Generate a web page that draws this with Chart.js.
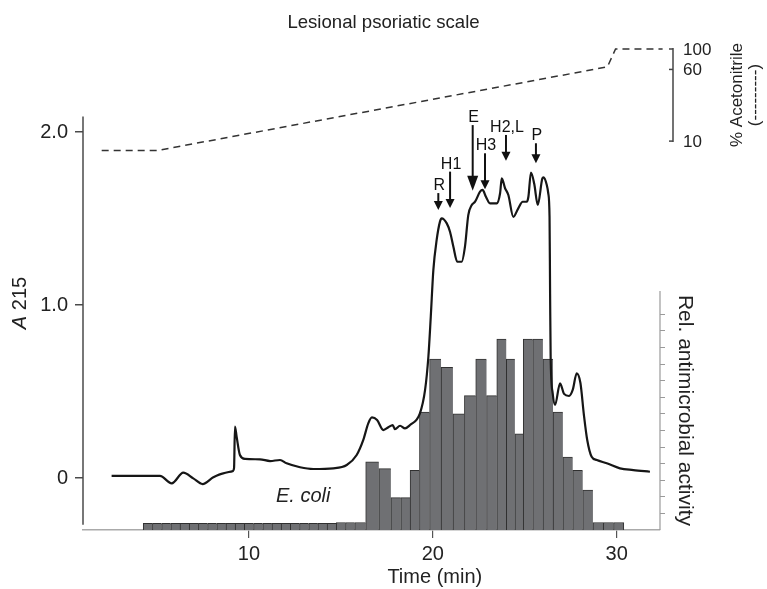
<!DOCTYPE html>
<html>
<head>
<meta charset="utf-8">
<script src="https://cdn.jsdelivr.net/npm/chart.js@4.4.1/dist/chart.umd.min.js"></script>
<style>
  html, body { margin: 0; padding: 0; background: #fff; }
</style>
</head>
<body>
<canvas id="myChart" width="767" height="589"></canvas>
<script>
// HPLC run of lesional psoriatic scale extract

// A215 trace
const TIME = [2.53, 5.16, 5.8, 6.43, 6.97, 7.48, 8.06, 8.6, 9.12, 9.19, 9.24, 9.33, 9.51, 9.79, 10.6, 11.15, 11.69, 12.05, 12.78, 13.5,
  14.59, 15.32, 15.86, 16.22, 16.49, 16.69, 16.97, 17.31, 17.58, 17.82, 17.94, 18.22, 18.49, 18.76, 19.3, 19.58, 19.76, 19.89, 20.03, 20.21,
  20.39, 20.48, 20.76, 20.94, 21.12, 21.33, 21.57, 21.75, 21.93, 22.12, 22.3, 22.57, 22.71, 22.89, 23.11, 23.48, 23.66, 23.75, 23.93, 24.11,
  24.38, 24.65, 24.89, 25.11, 25.2, 25.34, 25.52, 25.71, 25.96, 26.02, 26.2, 26.28, 26.35, 26.38, 26.41, 26.52, 26.65, 26.92, 27.14, 27.41,
  27.61, 27.83, 28.03, 28.22, 28.4, 28.64, 28.92, 29.46, 30.18, 30.91, 31.81];
const A215 = [0.012, 0.012, -0.031, 0.031, -0.002, -0.035, 0.004, 0.027, 0.04, 0.058, 0.297, 0.239, 0.133, 0.11, 0.108, 0.098, 0.104, 0.085, 0.062, 0.052,
  0.056, 0.075, 0.133, 0.22, 0.316, 0.35, 0.335, 0.277, 0.293, 0.306, 0.282, 0.302, 0.287, 0.306, 0.374, 0.509, 0.701, 0.932, 1.202, 1.376,
  1.482, 1.501, 1.472, 1.422, 1.337, 1.25, 1.25, 1.337, 1.52, 1.578, 1.597, 1.655, 1.665, 1.626, 1.588, 1.588, 1.646, 1.732, 1.675, 1.636,
  1.51, 1.559, 1.597, 1.597, 1.626, 1.766, 1.699, 1.578, 1.732, 1.738, 1.694, 1.646, 1.51, 1.068, 0.701, 0.49, 0.422, 0.547, 0.486, 0.474,
  0.509, 0.605, 0.549, 0.364, 0.22, 0.123, 0.104, 0.085, 0.056, 0.046, 0.036];

// fractions (mid time, min) and their antimicrobial activity vs E. coli
const FRACTION_TIME = [4.5, 5.0, 5.5, 6.0, 6.5, 7.0, 7.5, 8.0, 8.5, 9.0, 9.5, 10.0, 10.5, 11.0, 11.5, 12.0, 12.5, 13.0, 13.5, 14.0,
  14.5, 15.0, 15.5, 16.0, 16.7, 17.43, 18.01, 18.51, 19.02, 19.53, 20.12, 20.78, 21.41, 22.03, 22.64, 23.21, 23.75, 24.25, 24.68, 25.16,
  25.71, 26.27, 26.81, 27.34, 27.88, 28.43, 28.99, 29.55, 30.11];
const ACTIVITY = [0.4, 0.4, 0.4, 0.4, 0.4, 0.4, 0.4, 0.4, 0.4, 0.4, 0.4, 0.4, 0.4, 0.4, 0.4, 0.4, 0.4, 0.4, 0.4, 0.4,
  0.4, 0.45, 0.45, 0.45, 4.1, 3.7, 1.95, 1.95, 3.6, 7.1, 10.3, 9.8, 7.0, 8.1, 10.3, 8.1, 11.5, 10.3, 5.8, 11.5,
  11.5, 10.3, 7.1, 4.4, 3.6, 2.4, 0.45, 0.45, 0.45];

// acetonitrile gradient
const GRAD_TIME = [1.99, 5.0, 29.5, 29.94, 32.5];
const GRAD_ACN = [7.9, 7.9, 64, 100, 100];

const X_TICKS = [10, 20, 30];
const A215_TICKS = [0, 1, 2];
const ACN_TICKS = [10, 60, 100];
const ACT_TICKS = [1, 2, 3, 4, 5, 6, 7, 8, 9, 10, 11, 12, 13];

// peak arrows: time, arrow start and tip in A215 units
const PEAKS = [
  { label: 'R', time: 20.3, top: 1.647, tip: 1.549 },
  { label: 'H1', time: 20.94, top: 1.771, tip: 1.561 },
  { label: 'E', time: 22.17, top: 2.04, tip: 1.661 },
  { label: 'H3', time: 22.84, top: 1.877, tip: 1.669 },
  { label: 'H2,L', time: 23.98, top: 1.983, tip: 1.834 },
  { label: 'P', time: 25.61, top: 1.935, tip: 1.819 }
];

const FONT = '"Liberation Sans", Arial, Helvetica, sans-serif';
Chart.defaults.font.family = FONT;
Chart.defaults.color = '#222';

function line(ctx, x1, y1, x2, y2) {
  ctx.beginPath();
  ctx.moveTo(x1, y1);
  ctx.lineTo(x2, y2);
  ctx.stroke();
}

function rotText(ctx, text, x, y, angle, font) {
  ctx.save();
  ctx.translate(x, y);
  ctx.rotate(angle);
  ctx.font = font;
  ctx.textAlign = 'center';
  ctx.textBaseline = 'middle';
  ctx.fillText(text, 0, 0);
  ctx.restore();
}

const extras = {
  id: 'extras',
  afterDraw(chart) {
    const { ctx, chartArea } = chart;
    const { x, y, yAct, yAcn } = chart.scales;
    ctx.save();
    ctx.fillStyle = '#222';

    // left axis line
    ctx.strokeStyle = '#4a4a4a';
    ctx.lineWidth = 1.5;
    line(ctx, chartArea.left, y.getPixelForValue(2.09), chartArea.left, y.getPixelForValue(-0.27));

    // activity axis line
    ctx.strokeStyle = '#9a9a9a';
    ctx.lineWidth = 1.2;
    line(ctx, chartArea.right, yAct.getPixelForValue(0), chartArea.right, yAct.getPixelForValue(14.4));

    // acetonitrile bracket axis
    const ax = chartArea.right + 13;
    ctx.strokeStyle = '#444';
    ctx.lineWidth = 1.5;
    line(ctx, ax, yAcn.getPixelForValue(100) - 1, ax, yAcn.getPixelForValue(10) + 1);
    ctx.font = '17px ' + FONT;
    ctx.textAlign = 'left';
    ctx.textBaseline = 'middle';
    ACN_TICKS.forEach(v => {
      const py = yAcn.getPixelForValue(v);
      line(ctx, ax - 4, py, ax, py);
      ctx.fillText(String(v), ax + 10, py + 1);
    });
    const acnMid = (yAcn.getPixelForValue(100) + yAcn.getPixelForValue(10)) / 2;
    rotText(ctx, '% Acetonitrile', ax + 64, acnMid, -Math.PI / 2, '17px ' + FONT);
    rotText(ctx, '(---------)', ax + 82, acnMid, -Math.PI / 2, '17px ' + FONT);

    // axis titles
    rotText(ctx, 'Rel. antimicrobial activity', chartArea.right + 25,
      (yAct.getPixelForValue(0) + yAct.getPixelForValue(14.4)) / 2, Math.PI / 2, '21px ' + FONT);

    ctx.save();
    ctx.translate(20, y.getPixelForValue(1) - 2);
    ctx.rotate(-Math.PI / 2);
    ctx.textBaseline = 'middle';
    ctx.textAlign = 'left';
    ctx.font = 'italic 20px ' + FONT;
    const wA = ctx.measureText('A').width;
    ctx.font = '20px ' + FONT;
    const wN = ctx.measureText(' 215').width;
    ctx.font = 'italic 20px ' + FONT;
    ctx.fillText('A', -(wA + wN) / 2, 0);
    ctx.font = '20px ' + FONT;
    ctx.fillText(' 215', -(wA + wN) / 2 + wA, 0);
    ctx.restore();

    ctx.font = '20px ' + FONT;
    ctx.textAlign = 'center';
    ctx.textBaseline = 'middle';
    ctx.fillText('Time (min)', x.getPixelForValue(20) + 2, 577);

    // organism label
    ctx.font = 'italic 20px ' + FONT;
    ctx.fillText('E. coli', x.getPixelForValue(12.95), y.getPixelForValue(-0.105));

    // peak arrows
    ctx.strokeStyle = '#111';
    ctx.fillStyle = '#111';
    ctx.lineWidth = 2;
    PEAKS.forEach(p => {
      const px = x.getPixelForValue(p.time);
      const top = y.getPixelForValue(p.top);
      const tip = y.getPixelForValue(p.tip);
      const big = p.label === 'E';
      const hw = big ? 11 : 9;
      const hl = big ? 15 : 9;
      line(ctx, px, top, px, tip - hl + 1);
      ctx.beginPath();
      ctx.moveTo(px - hw / 2, tip - hl);
      ctx.lineTo(px + hw / 2, tip - hl);
      ctx.lineTo(px, tip);
      ctx.closePath();
      ctx.fill();
      ctx.font = '16px ' + FONT;
      ctx.textAlign = 'center';
      ctx.textBaseline = 'alphabetic';
      ctx.fillText(p.label, px + 1, top - 3);
    });
    ctx.restore();
  }
};

const chartCanvas = document.getElementById('myChart');

const lesionalChart = new Chart(chartCanvas, {
  type: 'line',
  data: {
    datasets: [{
      type: 'line',
      label: 'A215',
      data: TIME.map((t, i) => ({ x: t, y: A215[i] })),
      yAxisID: 'y',
      borderColor: '#161616',
      borderWidth: 2.2,
      pointRadius: 0,
      cubicInterpolationMode: 'monotone',
      order: 1
    }, {
      type: 'line',
      label: '% Acetonitrile',
      data: GRAD_TIME.map((t, i) => ({ x: t, y: GRAD_ACN[i] })),
      yAxisID: 'yAcn',
      borderColor: '#333',
      borderWidth: 1.5,
      borderDash: [7, 5],
      pointRadius: 0,
      clip: false,
      order: 1
    }, {
      type: 'bar',
      label: 'Rel. antimicrobial activity',
      data: FRACTION_TIME.map((t, i) => ({ x: t, y: ACTIVITY[i] })),
      yAxisID: 'yAct',
      backgroundColor: '#6f7073',
      borderColor: '#303030',
      borderWidth: c => ({ top: 1, left: 1, bottom: 0, right: c.dataIndex === ACTIVITY.length - 1 ? 1 : 0 }),
      barThickness: 'flex',
      barPercentage: 1,
      categoryPercentage: 1,
      order: 2
    }]
  },
  options: {
    responsive: false,
    animation: false,
    layout: { autoPadding: false, padding: 0 },
    plugins: {
      legend: { display: false },
      tooltip: { enabled: false },
      title: {
        display: true,
        text: 'Lesional psoriatic scale',
        font: { size: 18.6, weight: 'normal' },
        color: '#222',
        padding: { top: 11.7, bottom: 2 }
      }
    },
    scales: {
      x: {
        type: 'linear',
        offset: false,
        min: 0.974,
        max: 32.358,
        afterBuildTicks: s => { s.ticks = X_TICKS.map(v => ({ value: v })); },
        afterFit: s => { s.height = 59; },
        grid: { offset: false, drawOnChartArea: false, tickLength: 8, color: '#555', lineWidth: 1.2 },
        border: { color: '#aaa', width: 1.5 },
        ticks: { font: { size: 20 }, padding: 4, color: '#222' }
      },
      y: {
        type: 'linear',
        position: 'left',
        min: -0.3006,
        max: 2.5549,
        afterBuildTicks: s => { s.ticks = A215_TICKS.map(v => ({ value: v })); },
        afterFit: s => { s.width = 83; },
        grid: { drawOnChartArea: false, tickLength: 8, color: '#4a4a4a', lineWidth: 1.5 },
        border: { display: false },
        ticks: { font: { size: 20 }, padding: 7, color: '#222', callback: v => v === 0 ? '0' : v.toFixed(1) }
      },
      yAct: {
        type: 'linear',
        position: 'right',
        min: 0,
        max: 29.76,
        afterBuildTicks: s => { s.ticks = ACT_TICKS.map(v => ({ value: v })); },
        afterFit: s => { s.width = 107; },
        grid: { drawOnChartArea: false, tickLength: 5, color: '#9a9a9a', lineWidth: 1 },
        border: { display: false },
        ticks: { display: false }
      },
      yAcn: {
        type: 'logarithmic',
        position: 'right',
        display: false,
        min: 0.000615,
        max: 138.3
      }
    }
  },
  plugins: [extras]
});
</script>
</body>
</html>
